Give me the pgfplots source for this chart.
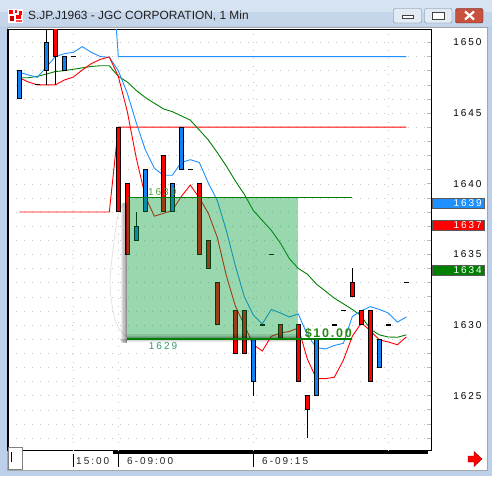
\documentclass[border=0pt]{standalone}
\usepackage{fontspec}
\setmainfont{Liberation Sans}
\newfontfamily\lblfont[LetterSpace=20]{Liberation Sans}
\newfontfamily\pnlfont[LetterSpace=14]{Liberation Sans}
\usepackage{pgfplots}
\pgfplotsset{compat=1.18}
\usepackage{pgfplotstable}

\definecolor{frameBlue}{RGB}{188,209,233}
\definecolor{titleTop}{RGB}{214,227,241}
\definecolor{titleBot}{RGB}{198,214,234}
\definecolor{btnFill}{RGB}{226,234,244}
\definecolor{btnEdge}{RGB}{112,128,152}
\definecolor{closeRed}{RGB}{199,80,62}
\definecolor{upBlue}{RGB}{16,130,245}
\definecolor{maBlue}{RGB}{30,144,255}
\definecolor{dnRed}{RGB}{255,0,0}
\definecolor{maGreen}{RGB}{0,128,0}
\definecolor{zoneGreen}{RGB}{0,155,55}
\definecolor{pnlGreen}{RGB}{40,135,20}
\definecolor{lvlTeal}{RGB}{50,155,105}
\definecolor{lvlLime}{RGB}{80,165,60}
\definecolor{boxGreen}{RGB}{0,128,0}

% moving averages, one row per minute (0 = 6-09:00)
\pgfplotstableread{
i    blue     red      green
-11  1647.88  1647.50  1647.50
-10  1647.70  1647.20  1647.50
-9   1647.53  1647.00  1647.60
-8   1648.25  1647.00  1647.76
-7   1649.00  1647.00  1647.94
-6   1649.20  1647.34  1648.00
-5   1649.30  1647.55  1648.10
-4   1649.70  1648.05  1648.20
-3   1649.30  1648.50  1648.30
-2   1649.00  1648.80  1648.35
-1   1648.95  1648.97  1648.35
0    1648.00  1647.60  1647.60
1    1646.40  1645.10  1647.20
2    1644.30  1641.80  1646.60
3    1642.40  1639.10  1646.10
4    1641.10  1637.70  1645.70
5    1640.60  1637.90  1645.30
6    1640.60  1638.10  1645.10
7    1641.50  1639.10  1644.80
8    1641.70  1639.90  1644.50
9    1641.50  1639.00  1643.80
10   1640.05  1637.90  1643.10
11   1638.80  1636.20  1642.20
12   1636.70  1633.50  1641.25
13   1634.20  1631.35  1640.20
14   1632.00  1630.00  1639.25
15   1630.70  1628.60  1638.10
16   1630.07  1628.16  1637.40
17   1631.10  1629.20  1636.70
18   1630.85  1629.43  1635.80
19   1630.57  1629.54  1634.70
20   1630.78  1629.79  1634.00
21   1629.30  1627.60  1633.60
22   1628.40  1626.20  1632.90
23   1628.30  1626.20  1632.40
24   1628.55  1626.30  1631.90
25   1628.70  1627.50  1631.50
26   1630.60  1629.20  1631.10
27   1631.00  1630.14  1630.64
28   1631.30  1629.60  1629.70
29   1631.10  1628.94  1629.30
30   1630.85  1628.80  1629.15
31   1630.20  1628.60  1629.13
32   1630.57  1629.15  1629.30
}\mavg

% session high / low levels
\pgfplotstableread{
i    hi     lo
-11  1658   1638
-1   1658   1638
0    1649   1644
32   1649   1644
}\levels

% candle: x, open, high, low, close, fill colour
\newcommand\candle[6]{%
  \pgfmathsetmacro\cxl{#1-0.22}\pgfmathsetmacro\cxr{#1+0.22}%
  \addplot[black, line width=1pt] coordinates {(#1,#4) (#1,#3)};
  \addplot[draw=black, fill=#6, line width=1pt]
    coordinates {(\cxl,#2) (\cxr,#2) (\cxr,#5) (\cxl,#5)} -- cycle;
}
% single-price minute
\newcommand\doji[2]{%
  \pgfmathsetmacro\cxl{#1-0.28}\pgfmathsetmacro\cxr{#1+0.28}%
  \addplot[black, line width=1.2pt] coordinates {(\cxl,#2) (\cxr,#2)};
}
% translucent band
\newcommand\band[5]{%
  \addplot[draw=none, fill=black, fill opacity=#5]
    coordinates {(#1,#3) (#2,#3) (#2,#4) (#1,#4)} -- cycle;
}

\begin{document}
\begin{tikzpicture}[x=1pt, y=-1pt]
\path[use as bounding box] (0,0) rectangle (492,476);
% window frame and title bar
\fill[frameBlue] (0,0) rectangle (492,476);
\fill[titleTop] (0,0) rectangle (492,12);
\fill[titleBot] (0,12) rectangle (492,26);
\fill[white] (7,27) rectangle (487,470);
\draw[gray!70] (7,27) rectangle (487,470);
% application icon
\fill[white] (8,9) rectangle (23,23);
\fill[red] (9,10) rectangle (13,14);
\fill[red] (15,10) rectangle (17,13);
\fill[red] (19,11) rectangle (22,15);
\fill[red!80!black] (10,16) rectangle (14,21);
\fill[red] (16,15) rectangle (21,19);
\fill[red!70] (16,20) rectangle (22,22);
\node[anchor=base west, inner sep=0pt, font=\fontsize{11.9pt}{14pt}\selectfont, text=black!88]
  at (28,20) {S.JP.J1963 - JGC CORPORATION, 1 Min};
% caption buttons
\draw[rounded corners=2pt, fill=btnFill, draw=btnEdge] (393.5,8.5) rectangle (421.5,23);
\draw[black!75, fill=white, line width=0.8pt] (402,15.5) rectangle (413,18.5);
\draw[rounded corners=2pt, fill=btnFill, draw=btnEdge] (424.5,8.5) rectangle (452,23);
\draw[black!75, fill=white, line width=0.8pt] (432.5,12) rectangle (444.5,19.5);
\draw[black!75, line width=1.6pt] (432.5,12.6) -- (444.5,12.6);
\draw[rounded corners=2pt, fill=closeRed, draw=black!60!closeRed] (455.5,8.5) rectangle (483,23);
\draw[white, line width=2.2pt] (465,11.5) -- (474,19.5) (465,19.5) -- (474,11.5);

\begin{axis}[
  at={(8pt,-450.7pt)}, anchor=south west,
  scale only axis, width=423.7pt, height=421.4pt,
  xmin=-12.256, xmax=34.82, ymin=1621.10, ymax=1650.93,
  axis line style={black, line width=1.3pt},
  xtick=\empty,
  ytick={1625,1630,1635,1640,1645,1650},
  yticklabels={1625,1630,1635,1640,1645,1650},
  minor ytick={1622,1623,...,1650},
  ytick pos=right, yticklabel pos=right,
  tick align=inside,
  major tick length=5pt, minor tick length=5pt,
  tick style={gray!55, line width=0.6pt},
  ymajorgrids, yminorgrids,
  major grid style={gray!45, dash pattern=on 1pt off 7pt},
  minor grid style={gray!45, dash pattern=on 1pt off 7pt},
  yticklabel style={font=\lblfont\fontsize{10pt}{12pt}\selectfont, text=black,
    anchor=east, inner sep=0pt, xshift=50pt},
]
% time grid
\addplot[gray!45, dash pattern=on 1pt off 7pt] coordinates {(-5,1621.1) (-5,1650.93)};
\addplot[gray!45, dash pattern=on 1pt off 7pt] coordinates {(0,1621.1) (0,1650.93)};
\addplot[gray!45, dash pattern=on 1pt off 7pt] coordinates {(15,1621.1) (15,1650.93)};
\addplot[gray!45, dash pattern=on 1pt off 7pt] coordinates {(30,1621.1) (30,1650.93)};

% faint selection arc
\addplot[gray!22, line width=0.8pt, smooth] coordinates {
  (0.93,1638.85) (-0.03,1637.8) (-0.59,1635.3) (-0.92,1633.2)
  (-0.70,1631.4) (-0.14,1630.0) (0.93,1629.15)};

% session levels
\addplot[maBlue, line width=0.9pt] table[x=i, y=hi] {\levels};
\addplot[dnRed, line width=0.9pt] table[x=i, y=lo] {\levels};

% moving averages
\addplot[maGreen, line width=0.9pt] table[x=i, y=green] {\mavg};
\addplot[maBlue, line width=0.9pt] table[x=i, y=blue] {\mavg};
\addplot[dnRed, line width=0.9pt] table[x=i, y=red] {\mavg};

% candles
\candle{-11}{1646}{1648}{1646}{1648}{upBlue}
\doji{-9}{1647}
\candle{-8}{1648}{1653}{1647}{1650}{upBlue}
\candle{-7}{1653}{1653}{1647}{1649}{dnRed}
\candle{-6}{1648}{1649}{1648}{1649}{upBlue}
\doji{-5}{1649}
\candle{0}{1644}{1644}{1638}{1638}{dnRed}
\candle{1}{1640}{1640}{1635}{1635}{dnRed}
\candle{2}{1636}{1638}{1636}{1637}{upBlue}
\candle{3}{1638}{1641}{1638}{1641}{upBlue}
\candle{5}{1642}{1642}{1638}{1638}{dnRed}
\candle{6}{1638}{1640}{1638}{1640}{upBlue}
\candle{7}{1641}{1644}{1641}{1644}{upBlue}
\doji{8}{1641}
\candle{9}{1640}{1640}{1635}{1635}{dnRed}
\candle{10}{1636}{1636}{1634}{1634}{dnRed}
\candle{11}{1633}{1633}{1630}{1630}{dnRed}
\candle{13}{1631}{1631}{1628}{1628}{dnRed}
\candle{14}{1631}{1631}{1628}{1628}{dnRed}
\candle{15}{1626}{1629}{1625}{1629}{upBlue}
\doji{16}{1630}
\doji{17}{1635}
\candle{18}{1630}{1630}{1629}{1629}{dnRed}
\candle{20}{1630}{1630}{1626}{1626}{dnRed}
\candle{21}{1625}{1625}{1622}{1624}{dnRed}
\candle{22}{1625}{1629}{1625}{1629}{upBlue}
\doji{24}{1630}
\doji{25}{1631}
\candle{26}{1633}{1634}{1632}{1632}{dnRed}
\candle{27}{1631}{1631}{1630}{1630}{dnRed}
\candle{28}{1631}{1631}{1626}{1626}{dnRed}
\candle{29}{1627}{1629}{1627}{1629}{upBlue}
\doji{30}{1630}
\doji{32}{1633}

% price zone 1629 - 1639
\addplot[draw=none, fill=zoneGreen, fill opacity=0.4]
  coordinates {(0.93,1629) (19.91,1629) (19.91,1639) (0.93,1639)} -- cycle;
% its shadow
\band{0.30}{0.43}{1628.72}{1638.6}{0.07}
\band{0.43}{0.57}{1628.72}{1638.6}{0.15}
\band{0.57}{0.70}{1628.72}{1638.6}{0.24}
\band{0.70}{0.83}{1628.72}{1638.6}{0.34}
\band{0.83}{0.93}{1628.72}{1638.6}{0.42}
\band{0.93}{19.91}{1629.00}{1629.12}{0.30}
\band{0.93}{19.91}{1629.12}{1629.24}{0.20}
\band{0.93}{19.91}{1629.24}{1629.36}{0.10}
\band{0.30}{19.91}{1628.88}{1629.00}{0.16}
\band{0.30}{19.91}{1628.76}{1628.88}{0.07}
\addplot[maGreen, line width=1.3pt] coordinates {(0.93,1639) (26,1639)};
\addplot[maGreen, line width=1.3pt] coordinates {(0.93,1629) (26,1629)};

\node[font=\lblfont\fontsize{10pt}{12pt}\selectfont, text=lvlLime, inner sep=0pt]
  at (axis cs:4.88,1639.41) {1639};
\node[font=\lblfont\fontsize{10pt}{12pt}\selectfont, text=lvlTeal, inner sep=0pt]
  at (axis cs:4.97,1628.51) {1629};
\node[font=\pnlfont\bfseries\fontsize{12.5pt}{14pt}\selectfont, text=pnlGreen, inner sep=0pt]
  at (axis cs:23.33,1629.43) {\$10.00};
\end{axis}

% current-value tags on the price scale
\draw[black!65, fill=maBlue] (432,197.7) rectangle (484,207.7);
\node[anchor=east, inner sep=0pt, text=white, font=\lblfont\fontsize{10pt}{12pt}\selectfont] at (482,202.9) {1639};
\draw[black!65, fill=dnRed] (432,220.3) rectangle (484,230.3);
\node[anchor=east, inner sep=0pt, text=white, font=\lblfont\fontsize{10pt}{12pt}\selectfont] at (482,225.5) {1637};
\draw[black!65, fill=boxGreen] (432,265.3) rectangle (484,275.3);
\node[anchor=east, inner sep=0pt, text=white, font=\lblfont\fontsize{10pt}{12pt}\selectfont] at (482,270.5) {1634};

% time scale
\fill[black] (113,450.7) rectangle (428.3,454);
\draw[black] (73.3,454) -- (73.3,467);
\draw[black] (118.3,454) -- (118.3,467);
\draw[black] (253.3,454) -- (253.3,467);
\node[anchor=west, inner sep=0pt, text=black!85, font=\lblfont\fontsize{10pt}{12pt}\selectfont] at (76,461.5) {15:00};
\node[anchor=west, inner sep=0pt, text=black!85, font=\lblfont\fontsize{10pt}{12pt}\selectfont] at (127,461.5) {6-09:00};
\node[anchor=west, inner sep=0pt, text=black!85, font=\lblfont\fontsize{10pt}{12pt}\selectfont] at (262,461.5) {6-09:15};
% scroll thumb
\draw[gray, fill=white] (8,447.5) rectangle (22,469);
\draw[black] (11,452) -- (11,462);
% scroll arrow
\draw[red!50!black, fill=red, line join=round]
  (468,456) -- (474,456) -- (474,451.5) -- (482,459) -- (474,466.5) -- (474,462) -- (468,462) -- cycle;
\end{tikzpicture}
\end{document}
